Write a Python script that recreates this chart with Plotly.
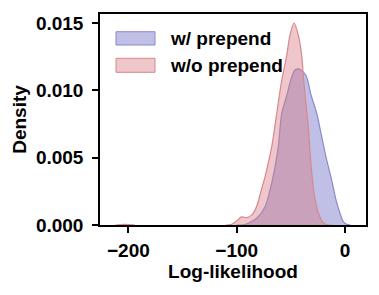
import plotly.graph_objects as go

# Density curves (x = log-likelihood, y = density)
series_names = ["w/ prepend", "w/o prepend"]

blue_x = [-100, -93.9, -89.3, -81.5, -73.8, -66.7, -61.6, -58.4, -53.8, -50.3, -46.2, -42.0,
          -36.0, -31.5, -26.1, -21.5, -16.9, -12.3, -8.3, -4.6, -1.6, 1.6, 5]
blue_y = [0, 0.00001, 0.00013, 0.0005, 0.00136, 0.00347, 0.00581, 0.0083, 0.0096, 0.0107, 0.01151, 0.01158,
          0.0111, 0.0097, 0.0083, 0.00656, 0.00483, 0.00334, 0.00186, 0.00087, 0.00025, 0.00005, 0]

# small outlier bump near -200, then the main body (None = gap)
red_x = [-212, -203, -194, None, -110, -104.6, -100, -95.5, -91, -86, -81.5, -76.9, -73.8, -67.7, -63,
         -58.5, -53.8, -50.8, -47.1, -43.1, -40, -38.5, -36.9, -33.9, -31.7, -28.6, -24.6, -20, -16.9, -12]
red_y = [0, 0.00005, 0, None, 0, 0.00005, 0.0003, 0.0006, 0.00055, 0.00075, 0.0014, 0.0027, 0.0036, 0.0058, 0.0083,
         0.0107, 0.0126, 0.0141, 0.0150, 0.0141, 0.0126, 0.0111, 0.0097, 0.0073, 0.0048, 0.0024, 0.0009, 0.00017, 0.00002, 0]

x_ticks = [-200, -100, 0]
y_ticks = [0.000, 0.005, 0.010, 0.015]

blue_line = "#8a8ad0"
blue_fill = "rgba(112,112,198,0.44)"
red_line = "#d8878e"
red_fill = "rgba(218,120,128,0.42)"

FONT = dict(family="Liberation Sans, Arial, sans-serif", size=19, color="black", weight="bold")

fig = go.Figure()
fig.add_trace(go.Scatter(x=blue_x, y=blue_y, mode="lines", fill="tozeroy",
                         line=dict(color=blue_line, width=1.2, shape="spline", smoothing=0.8),
                         fillcolor=blue_fill, name=series_names[0], showlegend=False))
fig.add_trace(go.Scatter(x=red_x, y=red_y, mode="lines", fill="tozeroy", connectgaps=False,
                         line=dict(color=red_line, width=1.2, shape="spline", smoothing=0.8),
                         fillcolor=red_fill, name=series_names[1], showlegend=False))

# manual legend (swatches + labels)
swatches = [(0.853, 0.916, blue_fill, blue_line, 0.8825), (0.7237, 0.790, red_fill, red_line, 0.755)]
for (y0, y1, fc, lc, ty), name in zip(swatches, series_names):
    fig.add_shape(type="rect", xref="paper", yref="paper", x0=0.0602, x1=0.2068, y0=y0, y1=y1,
                  fillcolor=fc, line=dict(color=lc, width=1))
    fig.add_annotation(xref="paper", yref="paper", x=0.257, y=ty, text=name, showarrow=False,
                       xanchor="left", yanchor="middle", font=FONT)

# page body has an 8px margin, so the figure is sized to fit inside it
fig.update_layout(
    width=363, height=279,
    margin=dict(l=92, r=5, t=6, b=62, autoexpand=False),
    paper_bgcolor="white", plot_bgcolor="white",
    font=FONT, showlegend=False,
)
fig.update_xaxes(range=[-226.2, 19.4], tickvals=x_ticks, ticks="outside", ticklen=6, tickwidth=1.5,
                 tickcolor="black", showline=True, linecolor="black", linewidth=1.5, mirror=True,
                 showgrid=False, zeroline=False, automargin=False, ticklabelstandoff=1,
                 title=dict(text="Log-likelihood", font=FONT, standoff=2),
                 tickfont=FONT)
fig.update_yaxes(range=[0, 0.01567], tickvals=y_ticks, tickformat=".3f", ticks="outside", ticklen=6,
                 tickwidth=1.5, tickcolor="black", showline=True, linecolor="black", linewidth=1.5,
                 mirror=True, showgrid=False, zeroline=False, automargin=False, ticklabelstandoff=5,
                 title=dict(text="Density", font=FONT, standoff=4), tickfont=FONT)

fig.write_html("out.html")
